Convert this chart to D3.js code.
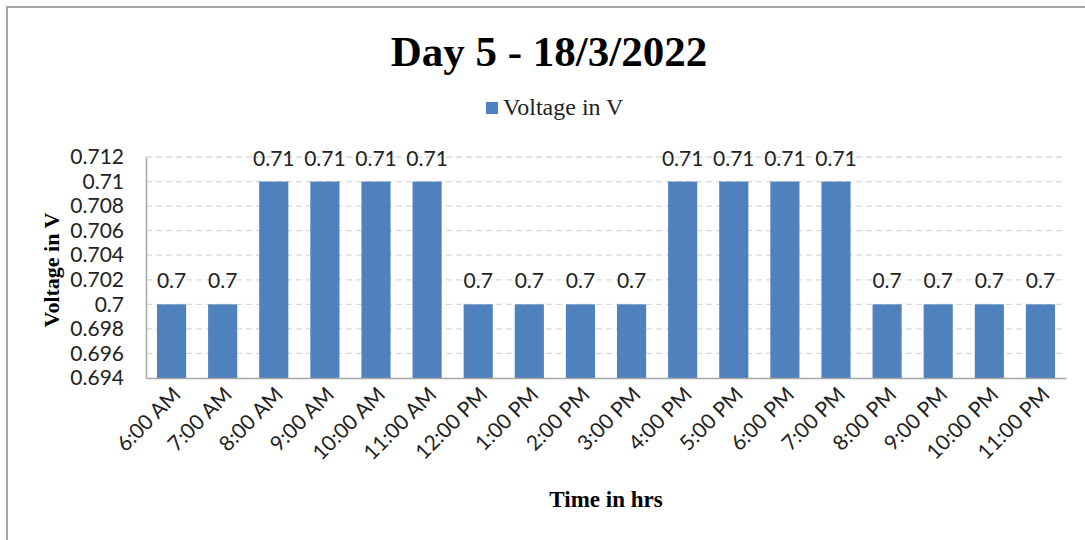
<!DOCTYPE html>
<html><head><meta charset="utf-8">
<script src="https://cdn.jsdelivr.net/npm/d3@7"></script>
<style>body{margin:0;background:#fff}</style>
</head><body>
<svg id="c" width="1085" height="540"></svg>
<script>
const categories = ["6:00 AM","7:00 AM","8:00 AM","9:00 AM","10:00 AM","11:00 AM","12:00 PM","1:00 PM","2:00 PM","3:00 PM","4:00 PM","5:00 PM","6:00 PM","7:00 PM","8:00 PM","9:00 PM","10:00 PM","11:00 PM"];
const voltage = [0.70,0.70,0.71,0.71,0.71,0.71,0.70,0.70,0.70,0.70,0.71,0.71,0.71,0.71,0.70,0.70,0.70,0.70];
const yTicks = [0.694,0.696,0.698,0.700,0.702,0.704,0.706,0.708,0.710,0.712];

const svg = d3.select("#c");
const tickFont = "Lato, 'Open Sans', sans-serif";
const serif = "'Liberation Serif', 'Times New Roman', serif";
const L = 146, R = 1066, T = 157, B = 378;

// outer border
svg.append("path").attr("d","M7,540 V7 H1085").attr("fill","none").attr("stroke","#a6a6a6").attr("stroke-width",2);

const x = d3.scaleBand().domain(categories).range([L,R]).paddingInner(0.43).paddingOuter(0.215);
const y = d3.scaleLinear().domain([0.694,0.712]).range([B,T]);

// gridlines
svg.append("g").selectAll("line").data(yTicks.slice(1)).join("line")
  .attr("x1",L).attr("x2",R).attr("y1",d=>y(d)).attr("y2",d=>y(d))
  .attr("stroke","#d9d9d9").attr("stroke-width",1.3).attr("stroke-dasharray","6,4");

// bars
svg.append("g").selectAll("rect").data(voltage).join("rect")
  .attr("x",(d,i)=>x(categories[i])).attr("width",x.bandwidth())
  .attr("y",d=>y(d)).attr("height",d=>B-y(d)).attr("fill","#4f81bd");

// data labels
svg.append("g").selectAll("text").data(voltage).join("text")
  .attr("x",(d,i)=>x(categories[i])+x.bandwidth()/2).attr("y",d=>y(d)-16)
  .attr("text-anchor","middle").attr("font-family",tickFont).attr("font-size",21).attr("fill","#222")
  .text(d=>String(+d.toFixed(2)));

// y axis
const ya = svg.append("g").attr("transform",`translate(${L},0)`)
  .call(d3.axisLeft(y).tickValues(yTicks).tickSize(0).tickPadding(22).tickFormat(d=>String(+d.toFixed(3))));
ya.select(".domain").attr("stroke","#a6a6a6").attr("stroke-width",1.5);
ya.selectAll("text").attr("font-family",tickFont).attr("font-size",21).attr("fill","#222");

// x axis
const xa = svg.append("g").attr("transform",`translate(0,${B})`)
  .call(d3.axisBottom(x).tickSize(0).tickPadding(0));
xa.select(".domain").attr("stroke","#a6a6a6").attr("stroke-width",1.5);
xa.selectAll("text").attr("font-family",tickFont).attr("font-size",21).attr("fill","#222")
  .attr("text-anchor","end").attr("dy",0)
  .attr("transform",function(){return `translate(${x.bandwidth()/2-4},18) rotate(-45)`;});

// title
svg.append("text").attr("x",549).attr("y",66).attr("text-anchor","middle")
  .attr("font-family",serif).attr("font-weight","bold").attr("font-size",43).text("Day 5 - 18/3/2022");

// legend
svg.append("rect").attr("x",486).attr("y",102).attr("width",12).attr("height",12).attr("fill","#4f81bd");
svg.append("text").attr("x",503).attr("y",115).attr("font-family",serif).attr("font-size",24).attr("fill","#222").text("Voltage in V");

// axis titles
svg.append("text").attr("transform","translate(59,270) rotate(-90)").attr("text-anchor","middle")
  .attr("font-family",serif).attr("font-weight","bold").attr("font-size",22).text("Voltage in V");
svg.append("text").attr("x",606).attr("y",507).attr("text-anchor","middle")
  .attr("font-family",serif).attr("font-weight","bold").attr("font-size",23).text("Time in hrs");
</script>
</body></html>
